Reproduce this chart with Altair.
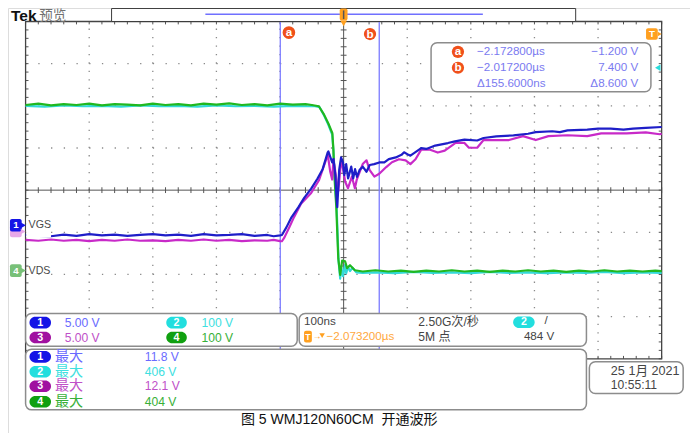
import altair as alt
import pandas as pd

# ---------------- values read from the oscilloscope screen ----------------
# time relative to the screen centre in ns (100 ns/div), voltage in V
T1 = [-500, -480, -460, -440, -420, -400, -380, -360, -340, -320,
      -300, -280, -260, -240, -220, -200, -180, -160, -140, -120,
      -110, -100, -97, -90, -82, -71, -62, -51, -41, -33,
      -25, -24, -18, -16, -13, -11, -10, -7, -4, -1,
      1, 4, 7, 12, 15, 18, 21, 25, 30, 36,
      41, 48, 56, 64, 71, 82, 91, 95, 102, 105,
      122, 130, 144, 164, 175, 190, 210, 220, 240, 267,
      290, 302, 328, 340, 352, 383, 400, 420, 440, 455,
      475, 500]
V1 = [-1.2, -1.3, -1.35, -1.15, -1.3, -1.1, -1.25, -1.15, -1.3, -1.2,
      -1.1, -1.25, -1.15, -1.3, -1.1, -1.25, -1.2, -1.1, -1.3, -1.2,
      -1.35, -1.25, -1.2, -0.3, 0.9, 2.1, 3.2, 4.3, 5.5, 6.6,
      8.6, 8.7, 7.4, 7.8, 5.9, 2.9, 2.1, 6.5, 8.0, 7.4,
      5.9, 7.2, 5.5, 6.9, 5.5, 6.6, 5.7, 6.5, 6.9, 6.3,
      7.1, 7.2, 7.4, 7.4, 7.8, 8.0, 8.3, 8.6, 8.3, 8.2,
      9.1, 9.0, 9.4, 9.7, 9.9, 10.1, 10.0, 10.3, 10.5, 10.6,
      10.8, 11.0, 11.1, 11.0, 11.2, 11.3, 11.4, 11.4, 11.3, 11.4,
      11.5, 11.6]

T3 = [-500, -480, -460, -440, -420, -400, -380, -360, -340, -320,
      -300, -280, -260, -240, -220, -200, -180, -160, -140, -120,
      -110, -100, -97, -93, -85, -78, -67, -51, -39, -28,
      -25, -21, -18, -16, -11.5, -8.4, -3.8, -0.8, 2.3, 6.9,
      13, 17.7, 20.7, 25.3, 30, 36, 40.7, 48.4, 56, 67,
      76, 87, 97.5, 105, 113, 122, 136, 148, 159, 176,
      190, 197, 210, 220, 240, 260, 282, 302, 322, 352,
      383, 405, 445, 475, 497, 500]
V3 = [-1.1, -1.2, -1.05, -1.2, -1.1, -1.25, -1.1, -1.2, -1.05, -1.2,
      -1.15, -1.25, -1.1, -1.2, -1.05, -1.2, -1.1, -1.25, -1.15, -1.2,
      -1.1, -1.25, -1.26, -0.8, 0.46, 1.6, 3.2, 4.46, 5.94, 8.34,
      9.03, 6.97, 6.06, 8.46, 6.17, 4.69, 8.46, 7.31, 5.83, 5.03,
      6.4, 5.03, 6.06, 6.97, 7.89, 8.34, 7.2, 6.4, 6.74, 7.54,
      8.11, 8.46, 8.34, 7.89, 8.46, 9.6, 9.6, 9.26, 9.49, 10.4,
      10.4, 9.83, 9.83, 10.74, 10.74, 10.74, 11.2, 10.74, 11.2, 11.31,
      11.2, 11.54, 11.54, 11.66, 11.43, 11.5]

T4 = [-500, -480, -460, -440, -420, -400, -380, -360, -340, -320,
      -300, -280, -260, -240, -220, -200, -180, -160, -140, -120,
      -100, -80, -60, -50, -39, -31.5, -24, -17.7, -16.1, -14.6,
      -11.5, -10, -8.4, -5.4, -2.3, 2.3, 5.4, 10, 17.7, 30,
      50, 70, 90, 110, 130, 150, 170, 190, 210, 230,
      250, 270, 290, 310, 330, 350, 370, 390, 410, 430,
      450, 470, 490, 500]
V4 = [394, 397, 393, 396, 394, 397, 393, 396, 395, 393,
      397, 394, 396, 393, 397, 395, 398, 394, 396, 393,
      397, 395, 396, 394, 391, 373, 350, 327, 288, 229,
      151, 91, 30, -9, 25, 23, 7, 14, 2, -1,
      2, -1, 1, -2, 1, -1, 2, -1, 1, -2,
      1, -1, 2, -1, 1, -2, 1, -1, 2, -1,
      1, -1, 1, 0]

T2 = [-500, -470, -440, -410, -380, -350, -320, -290, -260, -230,
      -200, -170, -140, -110, -80, -60, -45, -38, -31, -24,
      -18, -16, -14, -11, -9.5, -8, -5.4, -3.8, -1, 2.3,
      4, 7, 10, 14, 20, 30, 50, 80, 110, 140,
      170, 200, 230, 260, 290, 320, 350, 380, 410, 440,
      470, 500]
V2 = [392, 390, 393, 391, 392, 390, 393, 391, 392, 390,
      393, 391, 392, 390, 392, 391, 391, 389, 370, 347,
      324, 285, 226, 150, 90, 25, -18, 10, -12, 15,
      -5, 10, 0, 8, -3, -4, -3, -5, -2, -4,
      -3, -5, -2, -4, -3, -5, -3, -4, -2, -5,
      -3, -4]

CH_VDIV = {1: 5.0, 2: 100.0, 3: 5.0, 4: 100.0}          # V/div
CH_OFFSET = {1: -0.823, 2: -1.92, 3: -0.96, 4: -1.92}   # ground marker, div
CH_VDIV_LABELS = ["5.00 V", "100 V", "5.00 V", "100 V"]
CH_MAX_LABELS = ["11.8 V", "406 V", "12.1 V", "404 V"]
TDIV_NS = 100.0
H_POS_US = -2.073200
CURSOR_T_US = [-2.172800, -2.017200]
CURSOR_V_LABELS = ["\u22121.200 V", "7.400 V"]
DELTA_LABELS = ["\u0394155.6000ns", "\u03948.600 V"]
TIMEBASE = "100ns"
SAMPLE_RATE = "2.50G次/秒"
RECORD = "5M 点"
TRIG_LEVEL = "484 V"
DATE_LABELS = ["25 1月 2021", "10:55:11"]
CAPTION = "图 5 WMJ120N60CM \u00a0开通波形"

# ---------------- layout helpers ----------------
W, H = 682, 425
FS = 0.97
FONT = "Liberation Sans, Noto Sans CJK SC, sans-serif"


def px2x(p):
    return (p - 343.5) / 65.1


def px2y(p):
    return (189.0 - p) / 43.75


XS = alt.Scale(domain=[px2x(0), px2x(698)], nice=False, zero=False)
YS = alt.Scale(domain=[px2y(441), px2y(0)], nice=False, zero=False)


def xq(f="x"):
    return alt.X(f"{f}:Q", scale=XS, axis=None)


def yq(f="y"):
    return alt.Y(f"{f}:Q", scale=YS, axis=None)


def seg_chart(segs, **mk):
    df = pd.DataFrame(segs, columns=["x", "y", "x2", "y2"])
    return alt.Chart(df).mark_rule(**mk).encode(x=xq(), x2="x2:Q", y=yq(), y2="y2:Q")


def pxseg(rows):
    return [(px2x(a), px2y(b), px2x(c), px2y(d)) for a, b, c, d in rows]


def box_chart(rows, **mk):
    df = pd.DataFrame([{"x": px2x(a), "y": px2y(b), "x2": px2x(c), "y2": px2y(d), "c": col}
                       for a, b, c, d, col in rows])
    return alt.Chart(df).mark_rect(**mk).encode(
        x=xq(), x2="x2:Q", y=yq(), y2="y2:Q", fill=alt.Fill("c:N", scale=None))


def text_chart(rows, align="left", bold=False):
    df = pd.DataFrame([{"x": px2x(a), "y": px2y(b), "t": t, "c": c, "s": s * FS}
                       for a, b, t, c, s in rows])
    return alt.Chart(df).mark_text(
        align=align, baseline="middle", font=FONT,
        fontWeight="bold" if bold else "normal").encode(
        x=xq(), y=yq(), text="t:N", color=alt.Color("c:N", scale=None),
        size=alt.Size("s:Q", scale=None))


def sym_chart(rows, shape):
    df = pd.DataFrame([{"x": px2x(a), "y": px2y(b), "c": c, "s": s} for a, b, c, s in rows])
    return alt.Chart(df).mark_point(shape=shape, filled=True, opacity=1, strokeWidth=0).encode(
        x=xq(), y=yq(), color=alt.Color("c:N", scale=None), size=alt.Size("s:Q", scale=None))


def trace(T, V, ch, color, sw=2.2):
    df = pd.DataFrame({"x": [t / TDIV_NS for t in T],
                       "y": [v / CH_VDIV[ch] + CH_OFFSET[ch] for v in V]})
    return alt.Chart(df).mark_line(color=color, strokeWidth=sw, strokeJoin="round").encode(
        x=xq(), y=yq())


layers = []

# ---- graticule dots ----
hper = 0.2 * 65.1 * W / 698
vper = 0.2 * 43.75 * H / 441
hl = [(-5.0, k, 5.0, k) for k in (-3, -2, -1, 1, 2, 3)]
vl = [(k, -4.0, k, 4.0) for k in (-4, -3, -2, -1, 1, 2, 3, 4)]
layers.append(seg_chart(hl, color="#8a8a8a", strokeWidth=1.3, strokeDash=[1.3, hper - 1.3]))
layers.append(seg_chart(vl, color="#8a8a8a", strokeWidth=1.3, strokeDash=[1.3, vper - 1.3]))

# ---- centre cross and ticks ----
tx, ty = 3 / 65.1, 3 / 43.75
ticks = []
for i in range(-20, 21):
    y = i * 0.2
    ticks.append((-tx, y, tx, y))
    ticks.append((-5.0, y, -5.0 + tx, y))
    ticks.append((5.0 - tx, y, 5.0, y))
for i in range(-25, 26):
    x = i * 0.2
    ticks.append((x, -ty, x, ty))
    ticks.append((x, 4.0, x, 4.0 - ty))
    ticks.append((x, -4.0, x, -4.0 + ty))
layers.append(seg_chart(ticks, color="#555555", strokeWidth=1))
layers.append(seg_chart([(-5.0, 0, 5.0, 0), (0, -4.0, 0, 4.0)], color="#555555", strokeWidth=1))
layers.append(alt.Chart(pd.DataFrame([{"x": -5.0, "y": -4.0, "x2": 5.0, "y2": 4.0}])).mark_rect(
    fillOpacity=0, stroke="#444444", strokeWidth=1.3).encode(x=xq(), x2="x2:Q", y=yq(), y2="y2:Q"))

# ---- cursors ----
cur_x = [(t - H_POS_US) * 1000.0 / TDIV_NS for t in CURSOR_T_US]
layers.append(seg_chart([(cx, 4.0, cx, -4.0) for cx in cur_x], color="#7c7cff", strokeWidth=1.3))

# ---- traces ----
layers.append(trace(T2, V2, 2, "#33d9d9"))
layers.append(trace(T4, V4, 4, "#20b820"))
layers.append(trace(T3, V3, 3, "#c82ac8"))
layers.append(trace(T1, V1, 1, "#1e1ec8"))

# ---- left ground markers ----
layers.append(box_chart([(18.6, 217.5, 44, 237.8, "white")]))
layers.append(box_chart([(2, 225.5, 14, 238, "#e8a8e8"),
                         (2, 219, 14, 232, "#1414e6"),
                         (2, 266, 14, 279, "#78c078")], cornerRadius=2))
layers.append(sym_chart([(15.5, 232, "#e8a8e8", 30), (15.5, 225.5, "#1414e6", 40),
                         (15.5, 272.5, "#78c078", 40)], "triangle-right"))
layers.append(text_chart([(8, 225.5, "1", "white", 10), (8, 272.5, "4", "white", 10)],
                         align="center", bold=True))
layers.append(text_chart([(21, 225, "VGS", "#4a4a4a", 11), (21, 273, "VDS", "#4a4a4a", 11)]))

# ---- top bar ----
layers.append(box_chart([(106, 0.5, 581, 14, "white")], stroke="#3c3c3c", strokeWidth=1))
layers.append(seg_chart(pxseg([(202, 6.5, 486, 6.5)]), color="#7070ff", strokeWidth=1.5))
layers.append(box_chart([(339.5, 0.5, 347.5, 13, "#ffa020")], cornerRadius=2))
layers.append(seg_chart(pxseg([(343.5, 2.5, 343.5, 11.5)]), color="#555555", strokeWidth=1.5))
layers.append(sym_chart([(343.5, 16, "#ffa020", 45)], "triangle-down"))
layers.append(text_chart([(3, 8, "Tek", "#111111", 16)], bold=True))
layers.append(text_chart([(32, 8, "预览", "#707070", 14)]))

# ---- trigger markers on right ----
layers.append(box_chart([(653, 21, 665, 33, "#ffa020")], cornerRadius=2))
layers.append(sym_chart([(667, 27, "#ffa020", 20)], "triangle-right"))
layers.append(sym_chart([(665, 62, "#2adcdc", 40)], "triangle-left"))

# ---- panels ----
panels = [(433, 36, 658, 87, "white"), (18, 317, 296, 351, "white"), (298, 317, 592, 351, "white"),
          (18, 354, 592, 417, "white"), (595, 367, 691, 400, "white")]
layers.append(box_chart(panels, stroke="#8c8c8c", strokeWidth=1.5, cornerRadius=6))

# cursor letter circles
layers.append(sym_chart([(287.5, 25.5, "#f0501a", 160), (370.5, 27, "#f0501a", 150),
                         (460.5, 45.5, "#f0501a", 150), (460.5, 62, "#f0501a", 150)], "circle"))

# channel pills
PILL = {1: "#1414e6", 2: "#22dede", 3: "#a010a0", 4: "#10a010"}
TXT = {1: "#6a6aff", 2: "#40e0e0", 3: "#c050c8", 4: "#38b038"}
pills = [(22, 320.5, 44, 332.5, PILL[1]), (22, 336, 44, 348, PILL[3]),
         (162, 320.5, 183, 332.5, PILL[2]), (162, 336, 183, 348, PILL[4]),
         (517, 320, 539, 332, PILL[2])]
rows_y = [362, 377.5, 392.5, 408.5]
for ch, ry in zip([1, 2, 3, 4], rows_y):
    pills.append((22, ry - 6, 44, ry + 6, PILL[ch]))
layers.append(box_chart(pills, cornerRadius=6))
layers.append(box_chart([(303, 335, 311, 347, "#ffa020")], cornerRadius=2))
layers.append(sym_chart([(321.5, 340, "#ffa020", 30)], "triangle-down"))

ctr = [(33, 326.5, "1", "white", 11), (33, 342, "3", "white", 11),
       (172.5, 326.5, "2", "white", 11), (172.5, 342, "4", "white", 11),
       (528, 326, "2", "white", 11), (659, 27, "T", "white", 10), (307, 341, "T", "white", 9),
       (287.5, 26, "a", "white", 12), (370.5, 27.5, "b", "white", 12),
       (460.5, 46, "a", "white", 12), (460.5, 62.5, "b", "white", 12)]
for ch, ry in zip([1, 2, 3, 4], rows_y):
    ctr.append((33, ry, str(ch), "white", 11))
layers.append(text_chart(ctr, align="center", bold=True))

RC = "#7a7af0"
cur_labels = [("\u2212" if t < 0 else "") + f"{abs(t):.6f}µs" for t in CURSOR_T_US]
left = [(480, 45.5, cur_labels[0], RC, 12), (480, 62, cur_labels[1], RC, 12),
        (480, 79, DELTA_LABELS[0], RC, 12),
        (58, 326.5, CH_VDIV_LABELS[0], TXT[1], 12.5), (58, 342, CH_VDIV_LABELS[2], TXT[3], 12.5),
        (198, 326.5, CH_VDIV_LABELS[1], TXT[2], 12.5), (198, 342, CH_VDIV_LABELS[3], TXT[4], 12.5),
        (303, 326, TIMEBASE, "#444444", 12), (420, 326, SAMPLE_RATE, "#444444", 12.5),
        (549, 325, "/", "#444444", 12), (312, 340.5, "\u2192", "#ffa020", 9),
        (326, 341, "\u2212" + f"{abs(H_POS_US):.6f}µs", "#ffa840", 12),
        (420, 341, RECORD, "#444444", 12.5), (528, 341, TRIG_LEVEL, "#444444", 12),
        (617, 376.5, DATE_LABELS[0], "#444444", 13), (617, 391, DATE_LABELS[1], "#444444", 12.5)]
for ch, ry, mx in zip([1, 2, 3, 4], rows_y, CH_MAX_LABELS):
    left.append((48, ry, "最大", TXT[ch], 14.5))
    left.append((140, ry, mx, TXT[ch], 12.5))
layers.append(text_chart(left))
layers.append(text_chart([(645, 45.5, CURSOR_V_LABELS[0], RC, 12), (645, 62, CURSOR_V_LABELS[1], RC, 12),
                          (645, 79, DELTA_LABELS[1], RC, 12)], align="right"))
layers.append(text_chart([(339, 428, CAPTION, "#111111", 14.5)], align="center"))

chart = alt.layer(*layers).properties(
    width=W, height=H, padding=0, autosize=alt.AutoSizeParams(type="none")
).configure_view(stroke="transparent").configure(background="white")

chart.save("out.html", embed_options={"renderer": "svg", "actions": False})
